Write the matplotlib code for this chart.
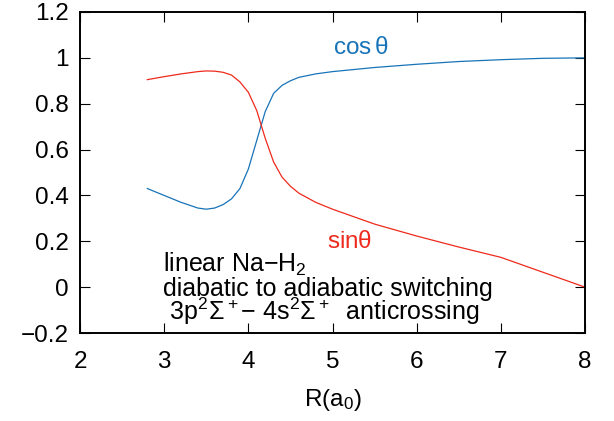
import matplotlib
matplotlib.use('Agg')
import matplotlib.pyplot as plt

plt.rcParams['font.family'] = ['Liberation Sans', 'DejaVu Sans']
plt.rcParams['mathtext.fontset'] = 'custom'
plt.rcParams['mathtext.rm'] = 'Liberation Sans'
plt.rcParams['mathtext.it'] = 'Liberation Sans'
plt.rcParams['mathtext.default'] = 'regular'

# data
R = [2.8, 3.0, 3.2, 3.4, 3.5, 3.6, 3.7, 3.8, 3.9, 4.0, 4.1, 4.2, 4.3, 4.4,
     4.5, 4.6, 4.8, 5.0, 5.5, 6.0, 6.5, 7.0, 7.5, 8.0]
cos_theta = [0.43, 0.40, 0.37, 0.345, 0.34, 0.345, 0.36, 0.385, 0.43, 0.515,
             0.64, 0.765, 0.845, 0.88, 0.90, 0.915, 0.93, 0.94, 0.958, 0.972,
             0.984, 0.992, 0.998, 1.0]
sin_theta = [0.905, 0.918, 0.93, 0.94, 0.943, 0.942, 0.937, 0.925, 0.895, 0.85,
             0.77, 0.65, 0.546, 0.48, 0.44, 0.41, 0.37, 0.34, 0.275, 0.223,
             0.175, 0.13, 0.065, 0.0]
xticks = [2, 3, 4, 5, 6, 7, 8]
yticks = [-0.2, 0, 0.2, 0.4, 0.6, 0.8, 1, 1.2]
ytick_labels = ['\u22120.2', '0', '0.2', '0.4', '0.6', '0.8', '1', '1.2']

blue = '#1874b8'
red = '#ee2a1c'
MINUS = '\u2212'

fig = plt.figure(figsize=(6.14, 4.21), dpi=100)
ax = fig.add_axes([0.1303, 0.209, 0.8225, 0.7625])

ax.plot(R, cos_theta, color=blue, lw=0.9)
ax.plot(R, sin_theta, color=red, lw=0.9)

ax.set_xlim(2, 8)
ax.set_ylim(-0.2, 1.2)
ax.set_xticks(xticks)
ax.set_yticks(yticks)
ax.set_yticklabels(ytick_labels)
ax.tick_params(direction='in', length=7, width=0.8, top=True, right=True,
               labelsize=17.5, pad=8)
ax.tick_params(axis='x', pad=13)
for s in ax.spines.values():
    s.set_linewidth(1.4)

ax.set_xlabel('R(a$_0$)', fontsize=17.5, labelpad=10)

ax.text(5.33, 1.045, r'cos$\,\theta$', color=blue, fontsize=17.5,
        ha='center', va='center')
ax.text(5.2, 0.196, r'sin$\theta$', color=red, fontsize=17.5,
        ha='center', va='center')

ax.text(2.99, 0.1, 'linear Na' + MINUS + 'H$_2$', fontsize=18, va='center')
ax.text(2.99, -0.01, 'diabatic to adiabatic switching', fontsize=18,
        va='center')
ax.text(2.99, -0.105, r' 3p$^2\Sigma^+$' + MINUS + r' 4s$^2\Sigma^+$  anticrossing',
        fontsize=18, va='center')

fig.savefig('out.png', dpi=100)
